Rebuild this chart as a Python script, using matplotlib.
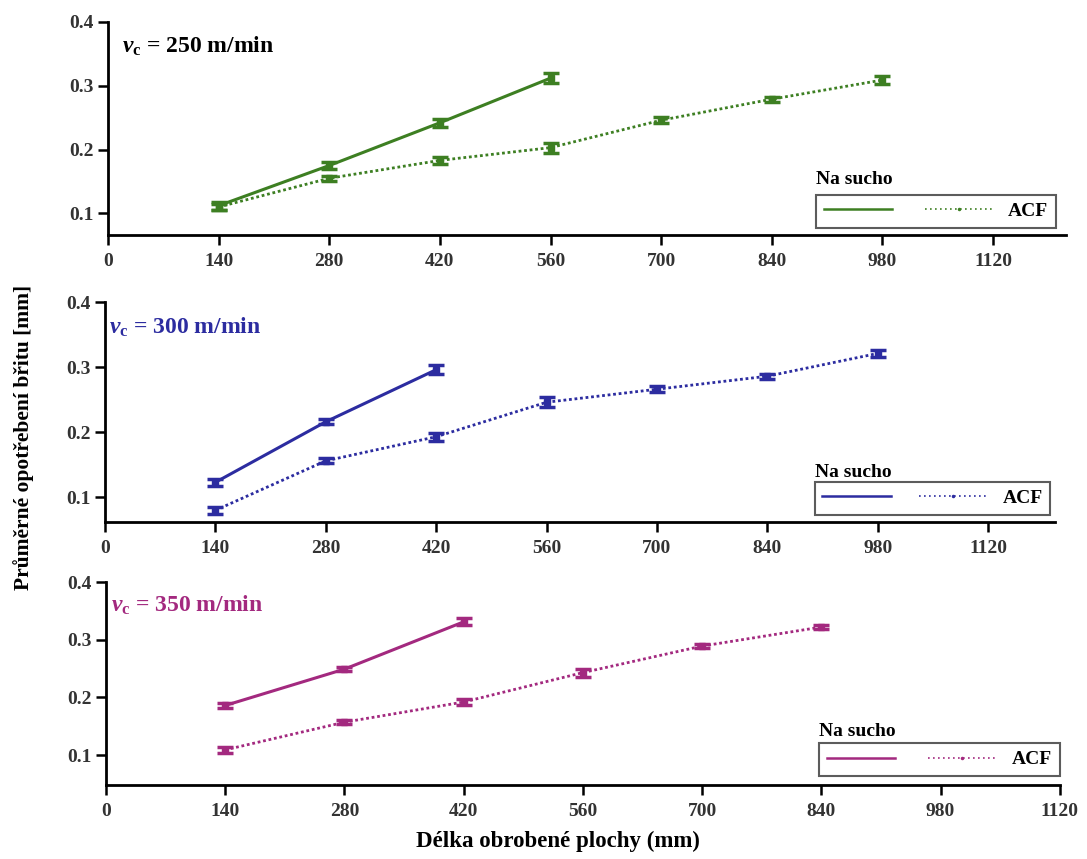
import matplotlib
matplotlib.use("Agg")
import matplotlib.pyplot as plt
from matplotlib.lines import Line2D

plt.rcParams['font.family'] = ['Liberation Serif', 'DejaVu Serif']
plt.rcParams['font.weight'] = 'bold'
plt.rcParams['mathtext.fontset'] = 'custom'
plt.rcParams['mathtext.rm'] = 'Liberation Serif:bold'
plt.rcParams['mathtext.it'] = 'Liberation Serif:bold:italic'
plt.rcParams['mathtext.bf'] = 'Liberation Serif:bold'

# ---- data ----
x_ticks = [0, 140, 280, 420, 560, 700, 840, 980, 1120]
y_ticks = [0.1, 0.2, 0.3, 0.4]

# vc = 250 m/min
x250_dry = [140, 280, 420, 560]
y250_dry = [0.112, 0.175, 0.242, 0.312]
e250_dry = [0.006, 0.005, 0.006, 0.008]
x250_acf = [140, 280, 420, 560, 700, 840, 980]
y250_acf = [0.110, 0.155, 0.183, 0.203, 0.246, 0.279, 0.309]
e250_acf = [0.005, 0.004, 0.005, 0.008, 0.005, 0.004, 0.006]

# vc = 300 m/min
x300_dry = [140, 280, 420]
y300_dry = [0.123, 0.216, 0.296]
e300_dry = [0.005, 0.004, 0.007]
x300_acf = [140, 280, 420, 560, 700, 840, 980]
y300_acf = [0.080, 0.156, 0.193, 0.246, 0.266, 0.286, 0.321]
e300_acf = [0.005, 0.004, 0.006, 0.008, 0.005, 0.004, 0.006]

# vc = 350 m/min
x350_dry = [140, 280, 420]
y350_dry = [0.186, 0.249, 0.331]
e350_dry = [0.005, 0.004, 0.006]
x350_acf = [140, 280, 420, 560, 700, 840]
y350_acf = [0.109, 0.157, 0.192, 0.243, 0.289, 0.322]
e350_acf = [0.005, 0.004, 0.006, 0.007, 0.004, 0.004]

panels = [
    dict(speed='250', color='#3d7f22', txtcolor='black', tx=0.015,
         xd=x250_dry, yd=y250_dry, ed=e250_dry, xa=x250_acf, ya=y250_acf, ea=e250_acf,
         pos=[0.0994, 0.7264, 0.8810, 0.2480], xlim=(0, 1212), ylim=(0.066, 0.4),
         leg=(0.739, 0.033, 0.251, 0.164), title_y=0.262),
    dict(speed='300', color='#2c2ca0', txtcolor='#2c2ca0', tx=0.004,
         xd=x300_dry, yd=y300_dry, ed=e300_dry, xa=x300_acf, ya=y300_acf, ea=e300_acf,
         pos=[0.0966, 0.3923, 0.8740, 0.2561], xlim=(0, 1205), ylim=(0.062, 0.4),
         leg=(0.747, 0.032, 0.248, 0.132), title_y=0.225),
    dict(speed='350', color='#a3297f', txtcolor='#a3297f', tx=0.005,
         xd=x350_dry, yd=y350_dry, ed=e350_dry, xa=x350_acf, ya=y350_acf, ea=e350_acf,
         pos=[0.0975, 0.0861, 0.8775, 0.2363], xlim=(0, 1120), ylim=(0.048, 0.4),
         leg=(0.748, 0.044, 0.252, 0.153), title_y=0.262),
]

fig = plt.figure(figsize=(10.87, 8.59), dpi=100)

for p in panels:
    ax = fig.add_axes(p['pos'])
    c = p['color']
    ax.errorbar(p['xd'], p['yd'], yerr=p['ed'], color=c, lw=2.2, marker='s', ms=4,
                capsize=6, capthick=2.5, elinewidth=2.2, clip_on=False)
    ax.errorbar(p['xa'], p['ya'], yerr=p['ea'], color=c, lw=2.0, ls=(0, (1, 1)),
                marker='s', ms=4, capsize=6, capthick=2.5, elinewidth=2.2, clip_on=False)
    ax.set_xlim(*p['xlim'])
    ax.set_ylim(*p['ylim'])
    ax.set_xticks(x_ticks)
    ax.set_xticklabels([str(v) for v in x_ticks])
    ax.set_yticks(y_ticks)
    ax.set_yticklabels([f'{v:.1f}' for v in y_ticks])
    for s in ['top', 'right']:
        ax.spines[s].set_visible(False)
    for s in ['left', 'bottom']:
        ax.spines[s].set_linewidth(2.0)
    ax.tick_params(axis='both', width=1.8, length=7, labelsize=14, colors='black')
    ax.tick_params(axis='x', pad=6)
    ax.tick_params(axis='both', labelcolor='#333333')
    ax.text(p['tx'], 0.885, r'$v_{\mathrm{c}}$ = ' + p['speed'] + ' m/min',
            transform=ax.transAxes, fontsize=17, fontweight='bold', color=p['txtcolor'],
            ha='left', va='center')
    h1 = Line2D([], [], color=c, lw=1.8)
    h2 = Line2D([], [], color=c, lw=1.2, ls=(0, (1, 2)), marker='.', ms=3)
    lg = ax.legend([h1, h2], ['', 'ACF'], ncol=2, loc='lower left',
                   bbox_to_anchor=p['leg'], mode='expand', frameon=True, fancybox=False,
                   edgecolor='#333333', handlelength=3.5, columnspacing=2.5,
                   borderaxespad=0, prop={'family': 'Liberation Serif', 'weight': 'bold', 'size': 14})
    lg.get_frame().set_linewidth(1.5)
    ax.text(p['leg'][0], p['title_y'], 'Na sucho', transform=ax.transAxes,
            fontsize=14, fontweight='bold', ha='left', va='center')

fig.text(0.022, 0.491, 'Průměrné opotřebení břitu [mm]', rotation=90, ha='center',
         va='center', fontsize=15.5, fontweight='bold')
fig.text(0.513, 0.020, 'Délka obrobené plochy (mm)', ha='center', va='center',
         fontsize=16.5, fontweight='bold')

fig.savefig('out.png', dpi=100)
